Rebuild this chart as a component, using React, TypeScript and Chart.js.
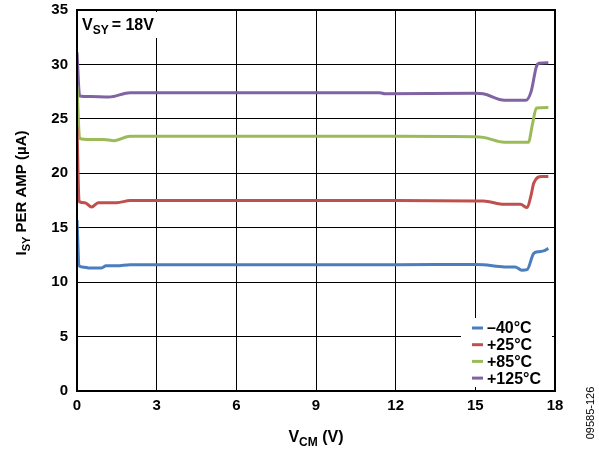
import React, { useEffect, useRef } from "react";
import { Chart, registerables } from "chart.js";

Chart.register(...registerables);

const xTicks = [0, 3, 6, 9, 12, 15, 18];
const yTicks = [0, 5, 10, 15, 20, 25, 30, 35];

const seriesLabels = ["\u201340\u00b0C", "+25\u00b0C", "+85\u00b0C", "+125\u00b0C"];
const seriesColors = ["#4a7ebf", "#c0504d", "#9bbb59", "#8064a2"];

const xBlue = [0, 0.08, 0.2, 0.5, 0.9, 1.1, 1.5, 2.0, 6, 12, 15, 15.3, 16.1, 16.5, 16.75, 16.95, 17.2, 17.4, 17.6, 17.75];
const yBlue = [15.7, 11.5, 11.4, 11.3, 11.3, 11.5, 11.5, 11.6, 11.6, 11.6, 11.62, 11.6, 11.4, 11.4, 11.1, 11.15, 12.65, 12.8, 12.9, 13.1];

const xRed = [0, 0.08, 0.3, 0.55, 0.8, 1.5, 2.0, 6, 12, 15, 15.3, 16.1, 16.7, 16.95, 17.1, 17.2, 17.5, 17.75];
const yRed = [24.3, 17.4, 17.3, 16.9, 17.3, 17.3, 17.5, 17.5, 17.5, 17.45, 17.45, 17.15, 17.15, 16.85, 18.0, 19.1, 19.7, 19.7];

const xGreen = [0, 0.1, 0.5, 1.0, 1.4, 2.0, 6, 12, 15, 15.3, 16.1, 17.0, 17.15, 17.3, 17.75];
const yGreen = [28.0, 23.2, 23.1, 23.1, 23.0, 23.4, 23.4, 23.4, 23.36, 23.3, 22.85, 22.85, 24.5, 26.0, 26.05];

const xPurple = [0, 0.1, 0.5, 1.2, 2.0, 6, 11.4, 11.6, 15, 15.3, 16.1, 16.9, 17.1, 17.3, 17.4, 17.75];
const yPurple = [31.1, 27.1, 27.05, 27.0, 27.4, 27.4, 27.4, 27.3, 27.35, 27.3, 26.7, 26.7, 27.5, 29.8, 30.1, 30.15];

const seriesX = [xBlue, xRed, xGreen, xPurple];
const seriesY = [yBlue, yRed, yGreen, yPurple];

const FONT = "'Liberation Sans', Arial, sans-serif";

const overlayPlugin = {
  id: "overlay",
  beforeDatasetsDraw(chart: any) {
    const ctx = chart.ctx;
    const a = chart.chartArea;
    ctx.save();
    ctx.fillStyle = "#ffffff";
    ctx.fillRect(a.left + 2, a.top + 2, 92, 26);
    ctx.restore();
  },
  afterDraw(chart: any) {
    const ctx = chart.ctx;
    const a = chart.chartArea;
    ctx.save();
    ctx.fillStyle = "#ffffff";
    ctx.fillRect(a.right - 94, a.bottom - 73, 91, 69);
    ctx.strokeStyle = "#000000";
    ctx.lineWidth = 2;
    ctx.strokeRect(a.left, a.top, a.right - a.left, a.bottom - a.top);

    ctx.font = `bold 16px ${FONT}`;
    ctx.textBaseline = "middle";
    ctx.textAlign = "left";
    const lx = a.right - 83;
    for (let i = 0; i < seriesLabels.length; i++) {
      const y = a.bottom - 63 + i * 16.7;
      ctx.strokeStyle = seriesColors[i];
      ctx.lineWidth = 3;
      ctx.beginPath();
      ctx.moveTo(lx, y);
      ctx.lineTo(lx + 11, y);
      ctx.stroke();
      ctx.fillStyle = "#000000";
      ctx.fillText(seriesLabels[i], lx + 15, y + 1);
    }

    ctx.fillStyle = "#000000";
    ctx.textBaseline = "alphabetic";
    ctx.font = `bold 16px ${FONT}`;
    let x = a.left + 5;
    ctx.fillText("V", x, a.top + 20);
    x += ctx.measureText("V").width;
    ctx.font = `bold 12px ${FONT}`;
    ctx.fillText("SY", x, a.top + 24);
    x += ctx.measureText("SY").width + 3;
    ctx.font = `bold 16px ${FONT}`;
    ctx.fillText("= 18V", x, a.top + 20);

    const cx = (a.left + a.right) / 2;
    ctx.font = `bold 16px ${FONT}`;
    const w1 = ctx.measureText("V").width;
    ctx.font = `bold 12px ${FONT}`;
    const w2 = ctx.measureText("CM").width;
    ctx.font = `bold 16px ${FONT}`;
    const w3 = ctx.measureText(" (V)").width;
    let tx = cx - (w1 + w2 + w3) / 2;
    const ty = 442;
    ctx.fillText("V", tx, ty);
    tx += w1;
    ctx.font = `bold 12px ${FONT}`;
    ctx.fillText("CM", tx, ty + 4);
    tx += w2;
    ctx.font = `bold 16px ${FONT}`;
    ctx.fillText(" (V)", tx, ty);

    ctx.save();
    ctx.translate(26, 193);
    ctx.rotate(-Math.PI / 2);
    ctx.font = `bold 15px ${FONT}`;
    const u1 = ctx.measureText("I").width;
    ctx.font = `bold 11px ${FONT}`;
    const u2 = ctx.measureText("SY").width;
    ctx.font = `bold 15px ${FONT}`;
    const u3 = ctx.measureText(" PER AMP (\u00b5A)").width;
    let ux = -(u1 + u2 + u3) / 2;
    ctx.fillText("I", ux, 0);
    ux += u1;
    ctx.font = `bold 11px ${FONT}`;
    ctx.fillText("SY", ux, 4);
    ux += u2;
    ctx.font = `bold 15px ${FONT}`;
    ctx.fillText(" PER AMP (\u00b5A)", ux, 0);
    ctx.restore();

    ctx.save();
    ctx.translate(594, 413);
    ctx.rotate(-Math.PI / 2);
    ctx.font = `11px ${FONT}`;
    ctx.textAlign = "center";
    ctx.fillStyle = "#000000";
    ctx.fillText("09585-126", 0, 0);
    ctx.restore();

    ctx.restore();
  },
};

export default function App() {
  const ref = useRef<HTMLCanvasElement | null>(null);

  useEffect(() => {
    if (!ref.current) return;
    const datasets = seriesLabels.map((label, i) => ({
      label,
      data: seriesX[i].map((xv, j) => ({ x: xv, y: seriesY[i][j] })),
      borderColor: seriesColors[i],
      backgroundColor: seriesColors[i],
      borderWidth: 3,
      pointRadius: 0,
      cubicInterpolationMode: "monotone" as const,
      fill: false,
    }));
    const chart = new Chart(ref.current, {
      type: "line",
      data: { datasets },
      options: {
        animation: false,
        responsive: false,
        devicePixelRatio: 1,
        layout: { padding: { top: 10, right: 44, left: 0, bottom: 0 } },
        plugins: { legend: { display: false }, tooltip: { enabled: false }, title: { display: false } },
        scales: {
          x: {
            type: "linear",
            min: 0,
            max: 18,
            afterBuildTicks: (s: any) => {
              s.ticks = xTicks.map((v) => ({ value: v }));
            },
            afterFit: (s: any) => {
              s.height = 62;
              s.paddingLeft = 0;
              s.paddingRight = 0;
            },
            grid: { color: "#000000", lineWidth: 1, drawTicks: false },
            border: { color: "#000000", width: 2 },
            ticks: {
              color: "#000000",
              padding: 6,
              maxRotation: 0,
              font: { family: FONT, size: 15, weight: "bold" },
            },
          },
          y: {
            type: "linear",
            min: 0,
            max: 35,
            afterBuildTicks: (s: any) => {
              s.ticks = yTicks.map((v) => ({ value: v }));
            },
            afterFit: (s: any) => {
              s.width = 77;
              s.paddingTop = 0;
              s.paddingBottom = 0;
            },
            grid: { color: "#000000", lineWidth: 1, drawTicks: false },
            border: { color: "#000000", width: 2 },
            ticks: {
              color: "#000000",
              padding: 9,
              font: { family: FONT, size: 15, weight: "bold" },
            },
          },
        },
      },
      plugins: [overlayPlugin],
    });
    return () => chart.destroy();
  }, []);

  return (
    <div style={{ position: "fixed", left: 0, top: 0, width: 599, height: 453, background: "#fff" }}>
      <canvas ref={ref} width={599} height={453} style={{ width: 599, height: 453 }} />
    </div>
  );
}
